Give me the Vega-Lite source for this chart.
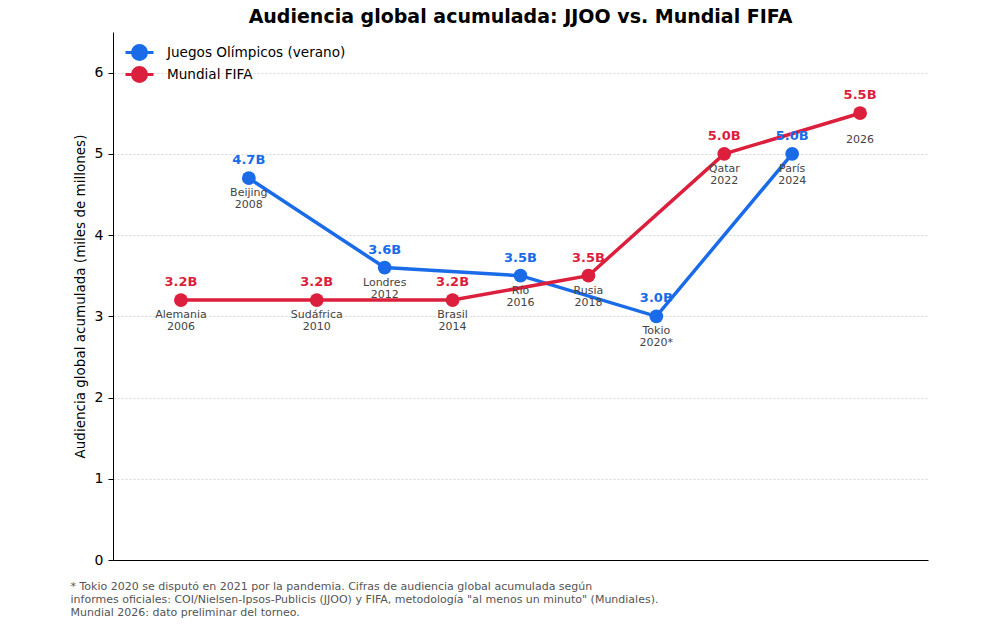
{
  "$schema": "https://vega.github.io/schema/vega-lite/v6.json",
  "autosize": "none",
  "width": 815,
  "height": 528,
  "padding": {"left": 113, "top": 32, "right": 70, "bottom": 65},
  "background": "white",
  "config": {
    "font": "DejaVu Sans",
    "view": {"stroke": null}
  },
  "title": {
    "text": "Audiencia global acumulada: JJOO vs. Mundial FIFA",
    "fontSize": 19,
    "fontWeight": "bold",
    "color": "#000000",
    "anchor": "middle",
    "offset": 5
  },
  "data": {
    "values": [
      {"evento": "Juegos Olímpicos (verano)", "year": 2008, "value": 4.7, "valor": "4.7B", "lugar": "Beijing\n2008"},
      {"evento": "Juegos Olímpicos (verano)", "year": 2012, "value": 3.6, "valor": "3.6B", "lugar": "Londres\n2012"},
      {"evento": "Juegos Olímpicos (verano)", "year": 2016, "value": 3.5, "valor": "3.5B", "lugar": "Río\n2016"},
      {"evento": "Juegos Olímpicos (verano)", "year": 2020, "value": 3.0, "valor": "3.0B", "lugar": "Tokio\n2020*"},
      {"evento": "Juegos Olímpicos (verano)", "year": 2024, "value": 5.0, "valor": "5.0B", "lugar": "París\n2024"},
      {"evento": "Mundial FIFA", "year": 2006, "value": 3.2, "valor": "3.2B", "lugar": "Alemania\n2006"},
      {"evento": "Mundial FIFA", "year": 2010, "value": 3.2, "valor": "3.2B", "lugar": "Sudáfrica\n2010"},
      {"evento": "Mundial FIFA", "year": 2014, "value": 3.2, "valor": "3.2B", "lugar": "Brasil\n2014"},
      {"evento": "Mundial FIFA", "year": 2018, "value": 3.5, "valor": "3.5B", "lugar": "Rusia\n2018"},
      {"evento": "Mundial FIFA", "year": 2022, "value": 5.0, "valor": "5.0B", "lugar": "Qatar\n2022"},
      {"evento": "Mundial FIFA", "year": 2026, "value": 5.5, "valor": "5.5B", "lugar": " \n2026"}
    ]
  },
  "encoding": {
    "x": {
      "field": "year",
      "type": "quantitative",
      "scale": {"domain": [2004, 2028], "nice": false, "zero": false},
      "axis": {
        "labels": false,
        "ticks": false,
        "grid": false,
        "domain": true,
        "domainColor": "#000000",
        "domainWidth": 1,
        "title": [
          "* Tokio 2020 se disputó en 2021 por la pandemia. Cifras de audiencia global acumulada según",
          "informes oficiales: COI/Nielsen-Ipsos-Publicis (JJOO) y FIFA, metodología \"al menos un minuto\" (Mundiales).",
          "Mundial 2026: dato preliminar del torneo."
        ],
        "titleFontSize": 11,
        "titleFontWeight": "normal",
        "titleColor": "#555555",
        "titleAnchor": "start",
        "titleAlign": "left",
        "titleBaseline": "top",
        "titleX": -43,
        "titleY": 20,
        "titleLineHeight": 13
      }
    },
    "y": {
      "field": "value",
      "type": "quantitative",
      "scale": {"domain": [0, 6.5], "nice": false},
      "axis": {
        "values": [0, 1, 2, 3, 4, 5, 6],
        "title": "Audiencia global acumulada (miles de millones)",
        "titleFontSize": 13.5,
        "titleFontWeight": "normal",
        "titleColor": "#000000",
        "titlePadding": 7,
        "labelFontSize": 14,
        "labelColor": "#000000",
        "labelPadding": 5,
        "tickColor": "#000000",
        "tickSize": 5,
        "domainColor": "#000000",
        "grid": true,
        "gridColor": "#cccccc",
        "gridDash": [2, 2],
        "gridWidth": 0.8
      }
    },
    "color": {
      "field": "evento",
      "type": "nominal",
      "scale": {
        "domain": ["Juegos Olímpicos (verano)", "Mundial FIFA"],
        "range": ["#1a6be8", "#dc1f3c"]
      },
      "legend": {
        "title": null,
        "orient": "none",
        "legendX": 18,
        "legendY": 12,
        "labelFontSize": 13.6,
        "labelColor": "#000000",
        "labelLimit": 400,
        "symbolType": "M-2,0L2,0M1,0A1,1,0,1,1,-1,0A1,1,0,1,1,1,0Z",
        "symbolSize": 196,
        "symbolStrokeWidth": 3,
        "rowPadding": -6,
        "labelOffset": 19,
        "encode": {
          "symbols": {
            "update": {
              "fill": {"scale": "color", "field": "value"},
              "stroke": {"scale": "color", "field": "value"},
              "fillOpacity": {"value": 1},
              "strokeOpacity": {"value": 1}
            }
          }
        }
      }
    }
  },
  "layer": [
    {
      "mark": {"type": "line", "strokeWidth": 3.5}
    },
    {
      "mark": {"type": "point", "filled": true, "opacity": 1, "size": 190}
    },
    {
      "mark": {"type": "text", "fontSize": 13, "fontWeight": "bold", "baseline": "bottom", "dy": -11},
      "encoding": {"text": {"field": "valor"}}
    },
    {
      "mark": {"type": "text", "fontSize": 11, "color": "#444444", "baseline": "top", "dy": 9, "lineBreak": "\n", "lineHeight": 12},
      "encoding": {"text": {"field": "lugar"}, "color": {"value": "#444444"}}
    }
  ]
}
